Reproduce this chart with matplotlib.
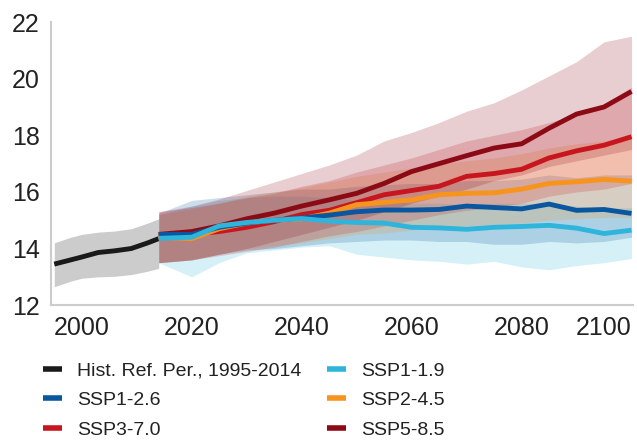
import numpy as np
import matplotlib
matplotlib.use("Agg")
import matplotlib.pyplot as plt

plt.rcParams['font.family'] = ['Liberation Sans', 'DejaVu Sans']

# historical reference period
hist_years = [1995, 1998, 2000, 2003, 2006, 2009, 2012, 2014]
hist_mean = [13.45, 13.6, 13.7, 13.86, 13.92, 14.0, 14.2, 14.35]
hist_hi = [14.2, 14.4, 14.5, 14.58, 14.62, 14.7, 14.9, 15.05]
hist_lo = [12.65, 12.85, 12.95, 13.0, 13.02, 13.08, 13.2, 13.3]

# scenario projections
proj_years = [2014, 2020, 2025, 2030, 2035, 2040, 2045, 2050, 2055, 2060,
              2065, 2070, 2075, 2080, 2085, 2090, 2095, 2100]

ssp585_mean = [14.5, 14.6, 14.8, 15.05, 15.25, 15.5, 15.72, 15.95, 16.3, 16.72,
               17.0, 17.28, 17.55, 17.7, 18.25, 18.75, 19.0, 19.55]
ssp585_hi = [15.3, 15.5, 15.75, 16.05, 16.35, 16.65, 16.95, 17.3, 17.8, 18.1,
             18.45, 18.85, 19.15, 19.6, 20.1, 20.6, 21.3, 21.5]
ssp585_lo = [13.5, 13.6, 13.8, 14.0, 14.25, 14.5, 14.75, 15.0, 15.3, 15.6,
             15.85, 16.1, 16.4, 16.6, 16.9, 17.1, 17.3, 17.5]

ssp370_mean = [14.48, 14.5, 14.6, 14.75, 14.95, 15.2, 15.35, 15.62, 15.9, 16.05,
               16.2, 16.55, 16.65, 16.8, 17.2, 17.45, 17.65, 17.95]
ssp370_hi = [15.3, 15.45, 15.6, 15.8, 15.95, 16.2, 16.4, 16.7, 16.95, 17.2,
             17.5, 17.8, 18.0, 18.2, 18.45, 18.75, 19.1, 19.7]
ssp370_lo = [13.5, 13.6, 13.75, 13.9, 14.05, 14.25, 14.45, 14.6, 14.8, 15.0,
             15.2, 15.35, 15.45, 15.6, 15.85, 16.0, 16.1, 16.3]

ssp245_mean = [14.4, 14.35, 14.7, 14.9, 15.0, 15.05, 15.25, 15.55, 15.63, 15.72,
               15.9, 15.95, 15.97, 16.1, 16.3, 16.36, 16.44, 16.38]
ssp245_hi = [15.2, 15.4, 15.6, 15.85, 16.0, 16.15, 16.35, 16.55, 16.7, 16.85,
             17.0, 17.1, 17.2, 17.35, 17.55, 17.7, 17.8, 17.95]
ssp245_lo = [13.5, 13.6, 13.8, 14.0, 14.1, 14.2, 14.35, 14.5, 14.55, 14.65,
             14.75, 14.8, 14.85, 14.9, 15.0, 15.05, 15.1, 15.1]

ssp126_mean = [14.5, 14.5, 14.75, 14.9, 15.0, 15.08, 15.18, 15.3, 15.36, 15.36,
               15.38, 15.5, 15.45, 15.4, 15.57, 15.35, 15.38, 15.24]
ssp126_hi = [15.25, 15.7, 15.8, 15.9, 16.0, 16.1, 16.1, 16.2, 16.25, 16.3,
             16.3, 16.4, 16.4, 16.45, 16.6, 16.5, 16.6, 16.6]
ssp126_lo = [13.5, 13.6, 13.8, 13.95, 14.0, 14.1, 14.2, 14.25, 14.3, 14.3,
             14.25, 14.25, 14.15, 14.15, 14.25, 14.2, 14.25, 14.4]

ssp119_mean = [14.36, 14.4, 14.8, 14.92, 15.0, 15.06, 14.97, 14.92, 14.9, 14.75,
               14.73, 14.68, 14.75, 14.78, 14.82, 14.72, 14.53, 14.65]
ssp119_hi = [15.2, 15.5, 15.7, 15.8, 15.85, 15.85, 15.8, 15.7, 15.7, 15.6,
             15.6, 15.55, 15.6, 15.6, 15.6, 15.5, 15.4, 15.45]
ssp119_lo = [13.5, 13.0, 13.5, 13.85, 13.95, 14.05, 14.1, 13.8, 13.7, 13.6,
             13.55, 13.45, 13.55, 13.35, 13.25, 13.4, 13.5, 13.65]

# bands drawn from coolest to warmest so the reds sit on top
scenarios = [
    ("SSP1-1.9", ssp119_mean, ssp119_lo, ssp119_hi, "#2fb5db"),
    ("SSP1-2.6", ssp126_mean, ssp126_lo, ssp126_hi, "#0a57a0"),
    ("SSP2-4.5", ssp245_mean, ssp245_lo, ssp245_hi, "#f7941d"),
    ("SSP3-7.0", ssp370_mean, ssp370_lo, ssp370_hi, "#c8161e"),
    ("SSP5-8.5", ssp585_mean, ssp585_lo, ssp585_hi, "#8c0a16"),
]

fig = plt.figure(figsize=(6.37, 4.41), dpi=100)
ax = fig.add_axes([0.080, 0.308, 0.914, 0.642])

ax.fill_between(hist_years, hist_lo, hist_hi, color="black", alpha=0.2, lw=0)
for name, mean, lo, hi, c in scenarios:
    ax.fill_between(proj_years, lo, hi, color=c, alpha=0.2, lw=0)

lines = {}
lines["Hist. Ref. Per., 1995-2014"], = ax.plot(hist_years, hist_mean, color="#1a1a1a", lw=3.5,
                                              solid_capstyle="butt")
for name, mean, lo, hi, c in scenarios[::-1]:
    lines[name], = ax.plot(proj_years, mean, color=c, lw=3.5, solid_capstyle="butt")

ax.set_xlim(1994.4, 2100.3)
ax.set_ylim(12, 22)
ax.set_xticks([2000, 2020, 2040, 2060, 2080, 2100])
ax.set_yticks([12, 14, 16, 18, 20, 22])
ax.tick_params(length=0, labelsize=18, labelcolor="#222222", pad=8)
ax.get_xticklabels()[-1].set_horizontalalignment("right")
for s in ["top", "right"]:
    ax.spines[s].set_visible(False)
for s in ["left", "bottom"]:
    ax.spines[s].set_color("#cccccc")
    ax.spines[s].set_linewidth(1.5)

order = ["Hist. Ref. Per., 1995-2014", "SSP1-2.6", "SSP3-7.0",
         "SSP1-1.9", "SSP2-4.5", "SSP5-8.5"]
fig.legend([lines[k] for k in order], order, ncol=2, frameon=False,
           loc="upper left", bbox_to_anchor=(43 / 637, 1 - 362 / 441),
           borderpad=0, borderaxespad=0, fontsize=14, handlelength=1.0,
           handletextpad=0.75, columnspacing=1.3, labelspacing=0.62,
           labelcolor="#222222")
for h in fig.legends[0].get_lines():
    h.set_linewidth(4)

fig.savefig("out.png", dpi=100)
